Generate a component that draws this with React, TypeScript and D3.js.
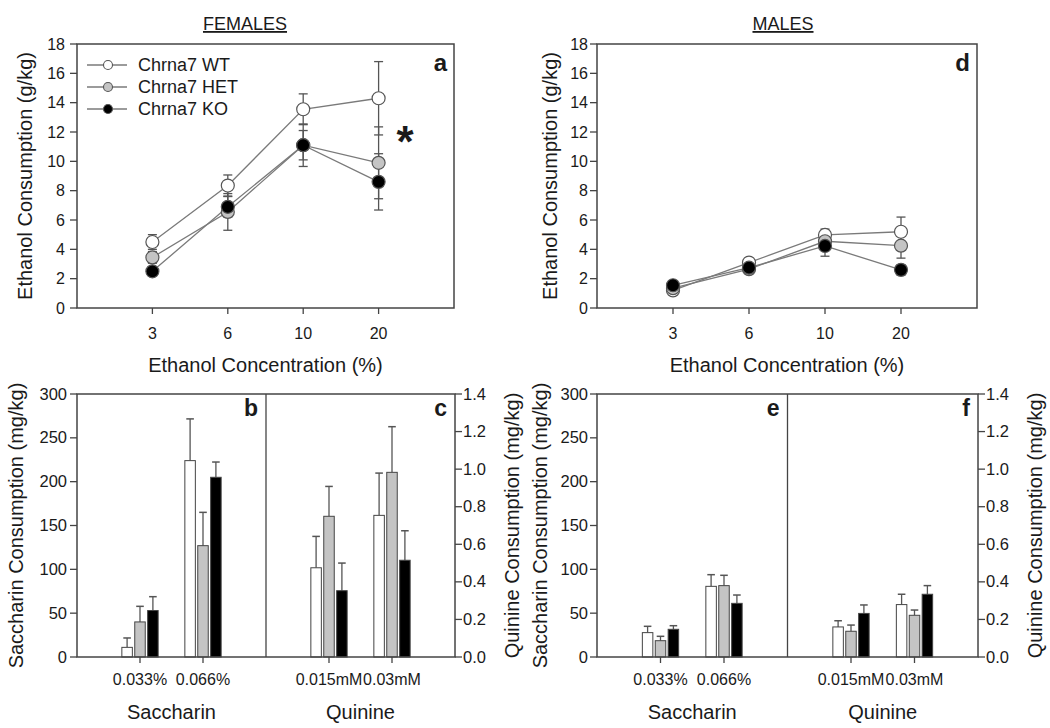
import React from "react";
import * as d3 from "d3";

// ---------- DATA ----------
const concentrations = ["3", "6", "10", "20"];
const genotypes = ["Chrna7 WT", "Chrna7 HET", "Chrna7 KO"];

const femaleWT = [4.5, 8.35, 13.55, 14.3];
const femaleWTErr = [0.5, 0.72, 1.05, 2.5];
const femaleHET = [3.45, 6.55, 11.1, 9.9];
const femaleHETErr = [0.4, 1.25, 1.45, 2.45];
const femaleKO = [2.5, 6.9, 11.1, 8.6];
const femaleKOErr = [0.3, 0.7, 1.0, 1.92];

const maleWT = [1.2, 3.1, 4.98, 5.2];
const maleWTErr = [0.12, 0.25, 0.4, 1.0];
const maleHET = [1.35, 2.65, 4.55, 4.25];
const maleHETErr = [0.12, 0.3, 0.45, 0.85];
const maleKO = [1.55, 2.75, 4.23, 2.6];
const maleKOErr = [0.12, 0.3, 0.7, 0.35];

const saccharinConc = ["0.033%", "0.066%"];
const quinineConc = ["0.015mM", "0.03mM"];

const femaleSacchWT = [11, 224];
const femaleSacchWTErr = [10.7, 47.6];
const femaleSacchHET = [40, 127];
const femaleSacchHETErr = [17.8, 38];
const femaleSacchKO = [53, 205];
const femaleSacchKOErr = [15.8, 17.4];

const femaleQuinWT = [0.475, 0.754];
const femaleQuinWTErr = [0.167, 0.225];
const femaleQuinHET = [0.749, 0.983];
const femaleQuinHETErr = [0.159, 0.243];
const femaleQuinKO = [0.353, 0.515];
const femaleQuinKOErr = [0.147, 0.157];

const maleSacchWT = [27.8, 80.6];
const maleSacchWTErr = [7.2, 13.3];
const maleSacchHET = [18.6, 81.4];
const maleSacchHETErr = [5, 11.8];
const maleSacchKO = [31.6, 61.2];
const maleSacchKOErr = [4.1, 9.5];

const maleQuinWT = [0.16, 0.279];
const maleQuinWTErr = [0.033, 0.055];
const maleQuinHET = [0.137, 0.222];
const maleQuinHETErr = [0.033, 0.028];
const maleQuinKO = [0.232, 0.334];
const maleQuinKOErr = [0.045, 0.046];

const ethanolTicks = [0, 2, 4, 6, 8, 10, 12, 14, 16, 18];
const saccharinTicks = [0, 50, 100, 150, 200, 250, 300];
const quinineTicks = [0, 0.2, 0.4, 0.6, 0.8, 1.0, 1.2, 1.4];

// ---------- STYLE ----------
const FONT = "'Liberation Sans', Arial, Helvetica, sans-serif";
const TXT = "#1a1a1a";
const AXIS = "#444";
const fills = ["#ffffff", "#c4c4c4", "#000000"];

type Series = { values: number[]; errs: number[] };

function LinePanel(props: {
  x0: number; x1: number; y0: number; y1: number;
  series: Series[]; letter: string; title: string; titleX: number;
  tickEnd: number; yTitleX: number; legend?: boolean; asterisk?: boolean;
}) {
  const { x0, x1, y0, y1, series, letter, title, titleX, tickEnd, yTitleX, legend, asterisk } = props;
  const y = d3.scaleLinear().domain([0, 18]).range([y1, y0]);
  const x = d3.scaleLinear().domain([0, 5]).range([x0, x1]);
  const line = d3.line<number>().x((_, i) => x(i + 1)).y((v) => y(v));
  const midX = (x0 + x1) / 2;
  return (
    <g>
      <text x={titleX} y={30} fontSize={18} textAnchor="middle" fill={TXT} fontFamily={FONT} textDecoration="underline">{title}</text>
      <rect x={x0} y={y0} width={x1 - x0} height={y1 - y0} fill="none" stroke={AXIS} strokeWidth={1.5} />
      {ethanolTicks.map((t) => (
        <g key={t}>
          <line x1={x0 - 7} x2={x0} y1={y(t)} y2={y(t)} stroke={AXIS} strokeWidth={1.3} />
          <text x={tickEnd} y={y(t) + 5.5} fontSize={16} textAnchor="end" fill={TXT} fontFamily={FONT}>{t}</text>
        </g>
      ))}
      {concentrations.map((c, i) => (
        <g key={c}>
          <line x1={x(i + 1)} x2={x(i + 1)} y1={y1} y2={y1 + 6} stroke={AXIS} strokeWidth={1.3} />
          <text x={x(i + 1)} y={339} fontSize={16} textAnchor="middle" fill={TXT} fontFamily={FONT}>{c}</text>
        </g>
      ))}
      <text x={midX} y={372} fontSize={20} textAnchor="middle" fill={TXT} fontFamily={FONT}>Ethanol Concentration (%)</text>
      <text transform={`translate(${yTitleX},${(y0 + y1) / 2}) rotate(-90)`} fontSize={20} textAnchor="middle" dominantBaseline="central" fill={TXT} fontFamily={FONT}>Ethanol Consumption (g/kg)</text>
      {series.map((s, si) =>
        s.values.map((v, i) => {
          const cx = x(i + 1);
          const hi = y(v + s.errs[i]);
          const lo = y(v - s.errs[i]);
          return (
            <g key={`e${si}-${i}`} stroke="#555" strokeWidth={1.3}>
              <line x1={cx} x2={cx} y1={hi} y2={lo} />
              <line x1={cx - 4.5} x2={cx + 4.5} y1={hi} y2={hi} />
              <line x1={cx - 4.5} x2={cx + 4.5} y1={lo} y2={lo} />
            </g>
          );
        })
      )}
      {series.map((s, si) => (
        <path key={`l${si}`} d={line(s.values) || ""} fill="none" stroke="#7a7a7a" strokeWidth={1.3} />
      ))}
      {series.map((s, si) =>
        s.values.map((v, i) => (
          <circle key={`m${si}-${i}`} cx={x(i + 1)} cy={y(v)} r={6.5} fill={fills[si]} stroke="#555" strokeWidth={1.2} />
        ))
      )}
      <text x={x1 - 7} y={y0 + 27} fontSize={24} fontWeight="bold" textAnchor="end" fill={TXT} fontFamily={FONT}>{letter}</text>
      {asterisk && (
        <text x={405} y={157} fontSize={44} fontWeight="bold" textAnchor="middle" fill={TXT} fontFamily={FONT}>*</text>
      )}
      {legend &&
        genotypes.map((g, gi) => {
          const ly = 65 + gi * 22;
          return (
            <g key={g}>
              <line x1={87} x2={127} y1={ly} y2={ly} stroke="#7a7a7a" strokeWidth={1.3} />
              <circle cx={108} cy={ly} r={4.5} fill={fills[gi]} stroke="#555" strokeWidth={1.1} />
              <text x={138} y={ly + 6} fontSize={18} fill={TXT} fontFamily={FONT}>{g}</text>
            </g>
          );
        })}
    </g>
  );
}

function BarGroup(props: {
  x0: number; x1: number; y: d3.ScaleLinear<number, number>;
  cats: string[]; series: Series[]; label: string; letter: string; y0: number; y1: number;
}) {
  const { x0, x1, y, cats, series, label, letter, y0, y1 } = props;
  const x = d3.scaleLinear().domain([0, 3]).range([x0, x1]);
  const bw = 10.5;
  const step = 12.9;
  return (
    <g>
      {cats.map((c, ci) => {
        const cx = x(ci + 1);
        return (
          <g key={c}>
            {series.map((s, si) => {
              const bx = cx + (si - 1) * step;
              const top = y(s.values[ci]);
              const et = y(s.values[ci] + s.errs[ci]);
              return (
                <g key={si}>
                  <line x1={bx} x2={bx} y1={top} y2={et} stroke="#555" strokeWidth={1.3} />
                  <line x1={bx - 3.8} x2={bx + 3.8} y1={et} y2={et} stroke="#555" strokeWidth={1.5} />
                  <rect x={bx - bw / 2} y={top} width={bw} height={y1 - top} fill={fills[si]} stroke="#444" strokeWidth={1} />
                </g>
              );
            })}
            <line x1={cx} x2={cx} y1={y1} y2={y1 + 6} stroke={AXIS} strokeWidth={1.3} />
            <text x={cx} y={685} fontSize={16} textAnchor="middle" fill={TXT} fontFamily={FONT}>{c}</text>
          </g>
        );
      })}
      <text x={(x0 + x1) / 2} y={719} fontSize={20} textAnchor="middle" fill={TXT} fontFamily={FONT}>{label}</text>
      <text x={x1 - 8} y={y0 + 22} fontSize={23} fontWeight="bold" textAnchor="end" fill={TXT} fontFamily={FONT}>{letter}</text>
    </g>
  );
}

function BarPanel(props: {
  x0: number; x1: number; y0: number; y1: number;
  sacc: Series[]; quin: Series[]; letters: [string, string];
  leftTickEnd: number; leftTitleX: number; rightTitleX: number;
}) {
  const { x0, x1, y0, y1, sacc, quin, letters, leftTickEnd, leftTitleX, rightTitleX } = props;
  const mid = (x0 + x1) / 2;
  const yL = d3.scaleLinear().domain([0, 300]).range([y1, y0]);
  const yR = d3.scaleLinear().domain([0, 1.4]).range([y1, y0]);
  const midY = (y0 + y1) / 2;
  return (
    <g>
      {saccharinTicks.map((t) => (
        <g key={t}>
          <line x1={x0 - 7} x2={x0} y1={yL(t)} y2={yL(t)} stroke={AXIS} strokeWidth={1.3} />
          <text x={leftTickEnd} y={yL(t) + 5.5} fontSize={16.5} textAnchor="end" fill={TXT} fontFamily={FONT}>{t}</text>
        </g>
      ))}
      {quinineTicks.map((t) => (
        <g key={t}>
          <line x1={x1} x2={x1 + 7} y1={yR(t)} y2={yR(t)} stroke={AXIS} strokeWidth={1.3} />
          <text x={x1 + 8} y={yR(t) + 5.5} fontSize={16.5} textAnchor="start" fill={TXT} fontFamily={FONT}>{t.toFixed(1)}</text>
        </g>
      ))}
      <text transform={`translate(${leftTitleX},${midY}) rotate(-90)`} fontSize={20} textAnchor="middle" dominantBaseline="central" fill={TXT} fontFamily={FONT}>Saccharin Consumption (mg/kg)</text>
      <text transform={`translate(${rightTitleX},${midY}) rotate(-90)`} fontSize={20} textAnchor="middle" dominantBaseline="central" fill={TXT} fontFamily={FONT}>Quinine Consumption (mg/kg)</text>
      <BarGroup x0={x0} x1={mid} y={yL} cats={saccharinConc} series={sacc} label="Saccharin" letter={letters[0]} y0={y0} y1={y1} />
      <BarGroup x0={mid} x1={x1} y={yR} cats={quinineConc} series={quin} label="Quinine" letter={letters[1]} y0={y0} y1={y1} />
      <rect x={x0} y={y0} width={x1 - x0} height={y1 - y0} fill="none" stroke={AXIS} strokeWidth={1.5} />
      <line x1={mid} x2={mid} y1={y0} y2={y1} stroke={AXIS} strokeWidth={1.3} />
    </g>
  );
}

export default function App() {
  const femaleLines: Series[] = [
    { values: femaleWT, errs: femaleWTErr },
    { values: femaleHET, errs: femaleHETErr },
    { values: femaleKO, errs: femaleKOErr },
  ];
  const maleLines: Series[] = [
    { values: maleWT, errs: maleWTErr },
    { values: maleHET, errs: maleHETErr },
    { values: maleKO, errs: maleKOErr },
  ];
  const fSacc: Series[] = [
    { values: femaleSacchWT, errs: femaleSacchWTErr },
    { values: femaleSacchHET, errs: femaleSacchHETErr },
    { values: femaleSacchKO, errs: femaleSacchKOErr },
  ];
  const fQuin: Series[] = [
    { values: femaleQuinWT, errs: femaleQuinWTErr },
    { values: femaleQuinHET, errs: femaleQuinHETErr },
    { values: femaleQuinKO, errs: femaleQuinKOErr },
  ];
  const mSacc: Series[] = [
    { values: maleSacchWT, errs: maleSacchWTErr },
    { values: maleSacchHET, errs: maleSacchHETErr },
    { values: maleSacchKO, errs: maleSacchKOErr },
  ];
  const mQuin: Series[] = [
    { values: maleQuinWT, errs: maleQuinWTErr },
    { values: maleQuinHET, errs: maleQuinHETErr },
    { values: maleQuinKO, errs: maleQuinKOErr },
  ];
  return (
    <svg width={1050} height={728} viewBox="0 0 1050 728" style={{ position: "absolute", left: 0, top: 0, background: "#fff" }}>
      <rect x={0} y={0} width={1050} height={728} fill="#fff" />
      <LinePanel x0={77} x1={454} y0={44} y1={308} series={femaleLines} letter="a" title="FEMALES" titleX={245} tickEnd={65} yTitleX={25} legend asterisk />
      <LinePanel x0={597} x1={977} y0={44} y1={308} series={maleLines} letter="d" title="MALES" titleX={783} tickEnd={588} yTitleX={550} />
      <BarPanel x0={77} x1={455} y0={394} y1={657} sacc={fSacc} quin={fQuin} letters={["b", "c"]} leftTickEnd={67} leftTitleX={16} rightTitleX={512} />
      <BarPanel x0={597} x1={978} y0={394} y1={657} sacc={mSacc} quin={mQuin} letters={["e", "f"]} leftTickEnd={588} leftTitleX={540} rightTitleX={1035} />
    </svg>
  );
}
